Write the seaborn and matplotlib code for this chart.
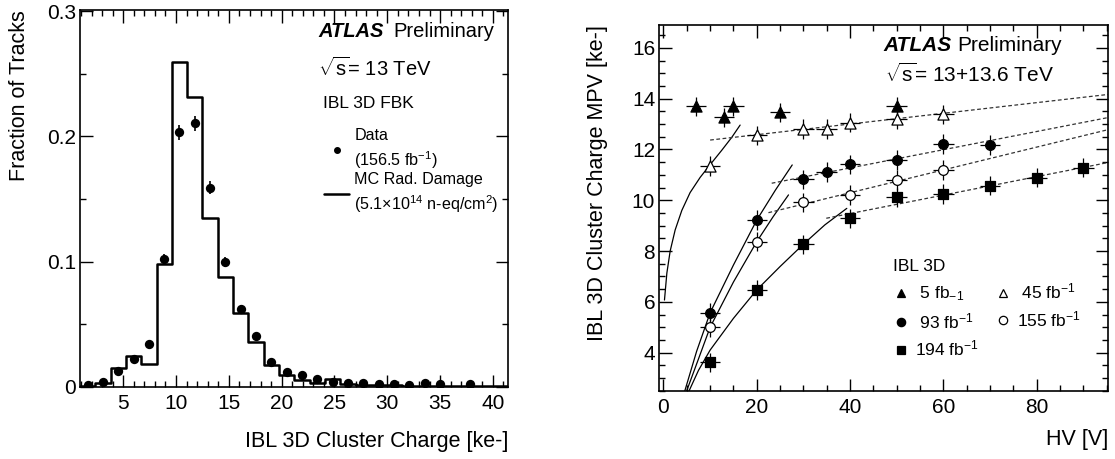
import numpy as np
import pandas as pd
import matplotlib
matplotlib.use("Agg")
import matplotlib.pyplot as plt
from matplotlib.ticker import MultipleLocator, FuncFormatter
from matplotlib.lines import Line2D
import seaborn as sns

# ---------------- left: cluster charge distribution ----------------
charge_first_edge = 0.9   # ke-
charge_bin_width = 1.45   # ke-
mc_frac = [0.0008, 0.0032, 0.0147, 0.0248, 0.0182, 0.0979, 0.2595, 0.2318,
           0.1347, 0.0875, 0.0592, 0.0355, 0.0174, 0.0095, 0.0057, 0.0027,
           0.0059, 0.0019, 0.0012, 0.0010, 0.0010, 0.0009, 0.0009, 0.0008,
           0.0008, 0.0008, 0.0007, 0.0007]
data_frac = [0.0013, 0.0035, 0.0126, 0.0219, 0.0342, 0.1020, 0.2035, 0.2107,
             0.1590, 0.0995, 0.0620, 0.0406, 0.0200, 0.0120, 0.0094, 0.0062,
             0.0035, 0.0032, 0.0027, 0.0021, 0.0021, 0.0016, 0.0027, 0.0019,
             np.nan, 0.0019, np.nan, np.nan]
data_err = [0.0003, 0.0005, 0.0010, 0.0015, 0.0020, 0.0040, 0.0060, 0.0060,
            0.0050, 0.0040, 0.0030, 0.0020, 0.0015, 0.0010, 0.0008, 0.0006,
            0.0005, 0.0004, 0.0004, 0.0003, 0.0003, 0.0003, 0.0003, 0.0003,
            0.0003, 0.0003, 0.0003, 0.0003]

# ---------------- right: MPV vs bias voltage ----------------
hv_5 = [7, 13, 15, 25, 50]
q_5 = [13.70, 13.27, 13.70, 13.46, 13.70]
hv_45 = [10, 20, 30, 35, 40, 50, 60]
q_45 = [11.35, 12.55, 12.80, 12.80, 13.05, 13.20, 13.38]
hv_93 = [10, 20, 30, 35, 40, 50, 60, 70]
q_93 = [5.57, 9.22, 10.83, 11.11, 11.42, 11.59, 12.22, 12.18]
hv_155 = [10, 20, 30, 40, 50, 60]
q_155 = [5.00, 8.37, 9.92, 10.21, 10.80, 11.19]
hv_194 = [10, 20, 30, 40, 50, 60, 70, 80, 90]
q_194 = [3.62, 6.47, 8.27, 9.29, 10.12, 10.24, 10.57, 10.89, 11.28]
hv_err = 2.2
q_err = 0.38

# depletion fits (solid)
fit45_hv = [0.21, 0.72, 1.43, 2.5, 3.93, 5.7, 7.86, 10, 12.5, 14.65, 16.43]
fit45_q = [6.07, 7.13, 8.00, 8.83, 9.60, 10.30, 10.90, 11.40, 11.97, 12.48, 12.96]
fit93_hv = [4.5, 7.1, 10, 15, 20, 24, 27.6]
fit93_q = [2.45, 4.05, 5.57, 7.45, 9.22, 10.40, 11.39]
fit155_hv = [4.9, 7.5, 10, 15, 20, 23.5, 26.8]
fit155_q = [2.46, 3.75, 5.00, 6.78, 8.37, 9.35, 10.21]
fit194_hv = [5.4, 7.5, 10, 15, 20, 25, 30, 34.6, 39.3]
fit194_q = [2.46, 3.30, 4.10, 5.35, 6.47, 7.39, 8.27, 9.03, 9.68]

# plateau fits (dashed), end points
lin45_hv, lin45_q = [10, 96], [12.37, 14.18]
lin93_hv, lin93_q = [23.2, 96], [10.67, 13.28]
lin155_hv, lin155_q = [22.5, 96], [9.51, 12.81]
lin194_hv, lin194_q = [34.9, 96], [9.29, 11.51]

sns.set_theme(style="ticks")
plt.rcParams["font.family"] = ["Liberation Sans", "DejaVu Sans"]
plt.rcParams["mathtext.fontset"] = "custom"
plt.rcParams["mathtext.rm"] = "Liberation Sans"
plt.rcParams["mathtext.it"] = "Liberation Sans:italic"
plt.rcParams["mathtext.bf"] = "Liberation Sans:bold"
plt.rcParams["text.color"] = "black"
plt.rcParams["axes.labelcolor"] = "black"
plt.rcParams["xtick.color"] = "black"
plt.rcParams["ytick.color"] = "black"

fig = plt.figure(figsize=(11.15, 4.59), dpi=100)
axL = fig.add_axes([0.0717, 0.1575, 0.3841, 0.8207])
axR = fig.add_axes([0.5913, 0.1488, 0.4024, 0.7967])

# ---- left panel ----
edges = charge_first_edge + charge_bin_width * np.arange(len(mc_frac) + 1)
centers = edges[:-1] + charge_bin_width / 2
hist_df = pd.DataFrame({"charge": centers, "mc": mc_frac, "data": data_frac,
                        "err": data_err})
sns.histplot(data=hist_df, x="charge", weights="mc", bins=list(edges),
             element="step", fill=False, color="black", linewidth=1.8, ax=axL)
axL.errorbar(hist_df["charge"], hist_df["data"], yerr=hist_df["err"], fmt="none",
             ecolor="black", elinewidth=1.2, capsize=0, zorder=3)
sns.scatterplot(data=hist_df, x="charge", y="data", color="black", edgecolor="black",
                s=45, linewidth=0, ax=axL, zorder=4)

axL.set_xlim(0.9, 41.45)
axL.set_ylim(0, 0.301)
axL.xaxis.set_major_locator(MultipleLocator(5))
axL.xaxis.set_minor_locator(MultipleLocator(1))
axL.yaxis.set_major_locator(MultipleLocator(0.1))
axL.yaxis.set_minor_locator(MultipleLocator(0.05))
axL.yaxis.set_major_formatter(FuncFormatter(lambda v, p: "%g" % round(v, 3)))
axL.set_xlabel("IBL 3D Cluster Charge [ke-]", loc="right", fontsize=15.5, labelpad=13)
axL.set_ylabel("Fraction of Tracks", loc="top", fontsize=15.5, labelpad=12)

axL.text(0.556, 0.929, "ATLAS", transform=axL.transAxes, fontsize=14.5,
         fontweight="bold", fontstyle="italic", va="baseline")
axL.text(0.732, 0.929, "Preliminary", transform=axL.transAxes, fontsize=14.5, va="baseline")
axL.text(0.556, 0.826, r"$\sqrt{\mathrm{s}}$= 13 TeV", transform=axL.transAxes,
         fontsize=14.5, va="baseline")
axL.text(0.567, 0.739, "IBL 3D FBK", transform=axL.transAxes, fontsize=12.5,
         va="baseline")

left_handles = [
    Line2D([], [], marker="o", color="black", linestyle="none", markersize=4),
    Line2D([], [], color="black", linewidth=1.8),
]
left_labels = ["Data\n(156.5 fb$^{-1}$)",
               "MC Rad. Damage\n(5.1$\\times$10$^{14}$ n-eq/cm$^{2}$)"]
legL = axL.legend(left_handles, left_labels, loc="upper left",
                  bbox_to_anchor=(0.569, 0.686), frameon=False, fontsize=11.6,
                  handlelength=1.6, handletextpad=0.3,
                  borderpad=0, borderaxespad=0, labelspacing=0.08)
for t in legL.get_texts():
    t.set_linespacing(1.36)

# ---- right panel ----
for hv, q in [(fit45_hv, fit45_q), (fit93_hv, fit93_q),
              (fit155_hv, fit155_q), (fit194_hv, fit194_q)]:
    sns.lineplot(x=hv, y=q, sort=False, estimator=None, color="black",
                 linewidth=0.9, ax=axR)
for hv, q in [(lin45_hv, lin45_q), (lin93_hv, lin93_q),
              (lin155_hv, lin155_q), (lin194_hv, lin194_q)]:
    sns.lineplot(x=hv, y=q, sort=False, estimator=None, color="#333333",
                 linewidth=0.9, linestyle=(0, (3, 2)), ax=axR)

series = [
    (hv_5, q_5, "^", "black", 8),
    (hv_45, q_45, "^", "white", 8),
    (hv_93, q_93, "o", "black", 7),
    (hv_155, q_155, "o", "white", 7),
    (hv_194, q_194, "s", "black", 6.5),
]
for hv, q, mk, fc, ms in series:
    axR.errorbar(hv, q, xerr=hv_err, yerr=q_err, fmt="none", ecolor="black",
                 elinewidth=0.9, capsize=0, zorder=3)
    sns.scatterplot(x=hv, y=q, marker=mk, color=fc, edgecolor="black",
                    s=ms ** 2, linewidth=0.9, ax=axR, zorder=4)

axR.set_xlim(-0.9, 95.3)
axR.set_ylim(2.5, 16.9)
axR.xaxis.set_major_locator(MultipleLocator(20))
axR.xaxis.set_minor_locator(MultipleLocator(5))
axR.yaxis.set_major_locator(MultipleLocator(2))
axR.yaxis.set_minor_locator(MultipleLocator(0.5))
axR.set_xlabel("HV [V]", loc="right", fontsize=15.5, labelpad=9)
axR.set_ylabel("IBL 3D Cluster Charge MPV [ke-]", loc="top", fontsize=15.5, labelpad=17)

axR.text(0.499, 0.930, "ATLAS", transform=axR.transAxes, fontsize=15,
         fontweight="bold", fontstyle="italic", va="baseline")
axR.text(0.664, 0.930, "Preliminary", transform=axR.transAxes, fontsize=15, va="baseline")
axR.text(0.503, 0.845, r"$\sqrt{\mathrm{s}}$= 13+13.6 TeV", transform=axR.transAxes,
         fontsize=15, va="baseline")

def mk_handle(mk, fc, ms):
    return Line2D([], [], marker=mk, markerfacecolor=fc, markeredgecolor="black",
                  linestyle="none", markersize=ms, markeredgewidth=0.9)

right_handles = [mk_handle("^", "black", 6), mk_handle("o", "black", 6),
                 mk_handle("s", "black", 6), mk_handle("^", "white", 6),
                 mk_handle("o", "white", 6)]
right_labels = [" 5 fb$_{-1}$", " 93 fb$^{-1}$", "194 fb$^{-1}$",
                " 45 fb$^{-1}$", "155 fb$^{-1}$"]
legR = axR.legend(right_handles, right_labels, title="IBL 3D", ncol=2,
                  loc="upper left", bbox_to_anchor=(0.52, 0.36), frameon=False,
                  fontsize=12.5, title_fontsize=12.5, handlelength=1.0,
                  handletextpad=0.3, columnspacing=0.9, borderpad=0,
                  borderaxespad=0, labelspacing=0.45, alignment="left")

for ax in (axL, axR):
    ax.tick_params(which="both", direction="in", top=True, right=True,
                   width=1, colors="black", labelsize=15)
    ax.tick_params(which="major", length=9)
    ax.tick_params(which="minor", length=4.5)
    ax.tick_params(axis="y", which="both", pad=3)
    ax.tick_params(axis="x", which="both", pad=5)
    for sp in ax.spines.values():
        sp.set_visible(True)
        sp.set_color("black")
        sp.set_linewidth(1.2)

fig.savefig("out.png", dpi=100)
